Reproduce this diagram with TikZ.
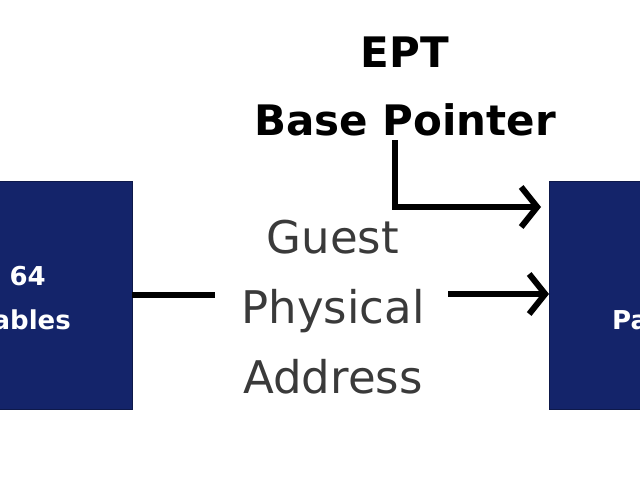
\documentclass[tikz,border=0pt]{standalone}
\usepackage{fontspec}
\setmainfont{DejaVu Sans}
\usetikzlibrary{arrows.meta,positioning}
\definecolor{eptnavy}{HTML}{14246A}
\definecolor{eptgray}{HTML}{3A3A3A}
\tikzset{
  blk/.style={fill=eptnavy,draw=eptnavy!70!black,line width=1pt},
  wtxt/.style={text=white,font=\bfseries\fontsize{26}{30}\selectfont,inner sep=0pt},
  conn/.style={line width=6pt,-{Straight Barb[length=16pt,width=40pt,line width=6pt]}},
}
\begin{document}
\begin{tikzpicture}[x=1pt,y=-1pt]
  \useasboundingbox (0,0) rectangle (640,480);
  \clip (0,0) rectangle (640,480);
  % boxes
  \fill[blk] (-30,181) rectangle (132,409);
  \fill[blk] (549,181) rectangle (680,409);
  \node[wtxt,anchor=east] (l1) at (46,276) {64};
  \node[wtxt,anchor=east] (l2) at (71,320) {ables};
  \node[wtxt,anchor=west] (r1) at (612,320) {Pa};
  % labels
  \node[font=\bfseries\fontsize{42}{48}\selectfont,inner sep=0pt] (ept) at (405,52) {EPT};
  \node[font=\bfseries\fontsize{42}{48}\selectfont,inner sep=0pt] (base) at (405,120) {Base Pointer};
  \node[text=eptgray,font=\fontsize{45}{70}\selectfont,align=center,inner sep=0pt] (gpa) at (333,307)
    {Guest\\Physical\\Address};
  % connectors
  \coordinate (bp) at (395,140);
  \coordinate (bt) at (541,207);
  \coordinate (ls) at (132,295);
  \coordinate (le) at (215,295);
  \coordinate (as) at (448,294);
  \coordinate (ae) at (549,294);
  \draw[conn] (bp) |- (bt);
  \draw[line width=6pt] (ls) -- (le);
  \draw[conn] (as) -- (ae);
\end{tikzpicture}
\end{document}
